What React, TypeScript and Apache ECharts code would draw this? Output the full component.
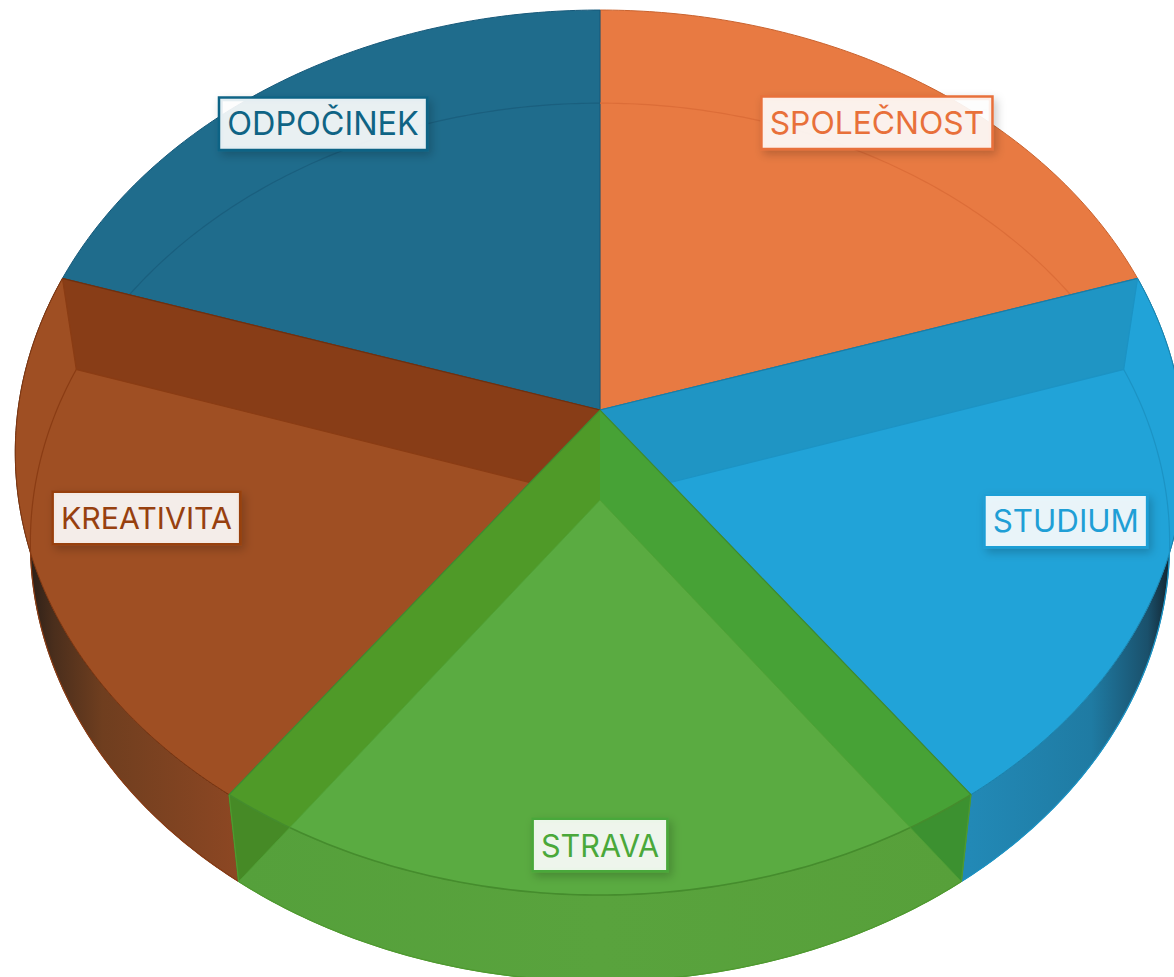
import React, { useEffect, useRef } from "react";
import * as echarts from "echarts";

const categories = ["SPOLEČNOST", "STUDIUM", "STRAVA", "KREATIVITA", "ODPOČINEK"];
const values = [20, 20, 20, 20, 20];
const faceColors = ["#e87a42", "#21a3d8", "#5aab41", "#9f4f23", "#1f6c8c"];
const textColors = ["#e8703a", "#1f9fd6", "#4aa83a", "#97400f", "#0f6485"];
const bandColors = ["#e06f38", "#1f95c4", "#4f9a28", "#883d17", "#1a6282"];
const lineColors = ["#c9632f", "#1a85b0", "#4b9030", "#7f3610", "#17597a"];
const arcColors = ["#dc6d38", "#1c93c4", "#4a9630", "#8a3c14", "#1a5f7e"];
const stack = [1, 3, 5, 3, 1];
const labelRadii = [0.864, 0.821, 0.906, 0.8, 0.864];
const labelLift = [0, 3, 0, 3, -1];
const labelSizes = [31.8, 31.3, 30.6, 30.3, 32.4];

const K = 0.0961;
const topFace = { cx: 600, cy: 410, a: 582, b: 438.4 };
const bottomFace = { cx: 600, cy: 500, a: 567, b: 435 };
const total = values.reduce((s, v) => s + v, 0);

const project = (f: any, deg: number, r = 1) => {
  const t = (deg * Math.PI) / 180;
  const d = 1 + K * r * Math.cos(t);
  return [f.cx + (f.a * r * Math.sin(t)) / d, f.cy - (f.b * r * Math.cos(t)) / d];
};
const rim = (f: any, from: number, to: number) => {
  const n = Math.max(2, Math.ceil(Math.abs(to - from) * 1.5));
  const pts: number[][] = [];
  for (let i = 0; i <= n; i++) pts.push(project(f, from + ((to - from) * i) / n));
  return pts;
};
const centerOf = (f: any) => [f.cx, f.cy];

// Part of a radial wall that is seen through the top face
const bandInsideTop = (deg: number, towards: number) => {
  const bc = centerOf(bottomFace);
  const be = project(bottomFace, deg);
  const side = (p: number[]) => (be[0] - bc[0]) * (p[1] - bc[1]) - (be[1] - bc[1]) * (p[0] - bc[0]);
  const s0 = Math.sign(side(project(topFace, deg)));
  const pts: number[][] = [];
  for (let i = 0; i <= 400; i++) {
    const p = project(topFace, deg + ((towards - deg) * i) / 400);
    if (Math.sign(side(p)) !== s0) break;
    pts.push(p);
  }
  return [centerOf(topFace), ...pts, bc];
};

const grad = (x0: number, x1: number, stops: [number, string][]) =>
  new echarts.graphic.LinearGradient(
    x0, 0, x1, 0,
    stops.map(([offset, color]) => ({ offset, color })),
    true
  );

const wallFills: any[] = [
  null,
  grad(970, 1172, [[0, "#2289b6"], [0.6, "#1f7ba3"], [0.88, "#1a506b"], [1, "#12202a"]]),
  grad(238, 962, [[0, "#55a03b"], [0.5, "#59a33d"], [1, "#57a03a"]]),
  grad(28, 240, [[0, "#2a1f18"], [0.12, "#4a2e1c"], [0.35, "#6f3e1f"], [1, "#8d4723"]]),
  null,
];
const wallLines = ["#c9632f", "#1c7ca6", "#4f9a30", "#4f2a14", "#17597a"];

function renderItem(params: any, api: any) {
  const i = params.dataIndex;
  const before = values.slice(0, i).reduce((s, v) => s + v, 0);
  const start = (before / total) * 360;
  const end = start + (api.value(0) / total) * 360;
  const mid = (start + end) / 2;
  const base = stack[i] * 10;
  const tc = centerOf(topFace);
  const bc = centerOf(bottomFace);
  const children: any[] = [];
  const poly = (points: number[][], fill: any, stroke: string | null, z: number, lineWidth = 1) =>
    children.push({
      type: "polygon",
      z2: base + z,
      silent: true,
      shape: { points },
      style: { fill, stroke: stroke || "none", lineWidth: stroke ? lineWidth : 0 },
    });
  const line = (points: number[][], stroke: string, z: number, lineWidth = 1.2) =>
    children.push({
      type: "polyline",
      z2: base + z,
      silent: true,
      shape: { points },
      style: { fill: "none", stroke, lineWidth },
    });

  const topArc = rim(topFace, start, end);
  const bottomArc = rim(bottomFace, start, end);
  const facePts = [tc, ...topArc];

  if (wallFills[i]) {
    poly([...topArc, ...bottomArc.slice().reverse()], wallFills[i], wallLines[i], 0);
  }

  if (categories[i] === "STRAVA") {
    const tri = (deg: number, c: string) =>
      poly([tc, project(topFace, deg), project(bottomFace, deg), bc], c, null, 1);
    tri(start, "#3c9130");
    tri(end, "#468a26");
    poly(facePts, faceColors[i], null, 2);
    poly(bandInsideTop(start, mid), "#47a236", null, 3);
    poly(bandInsideTop(end, mid), "#4f9a28", null, 3);
    line(topArc, "#458c2d", 4, 1.6);
    line([project(topFace, start), project(bottomFace, start)], "#4f9a30", 4);
    line([project(topFace, end), project(bottomFace, end)], "#4f9a30", 4);
    line([project(bottomFace, start), bc, project(bottomFace, end)], "#4fa035", 4, 0.8);
    line([project(topFace, start), tc, project(topFace, end)], "#3f8a30", 4);
    line(bottomArc, "#4f9a30", 4);
  } else {
    poly(facePts, faceColors[i], lineColors[i], 2);
    line(bottomArc, arcColors[i], 3);
    // radial wall seen through the face, on the edge that the green slice does not cover
    if (categories[i] === "STUDIUM") {
      poly([tc, project(topFace, start), project(bottomFace, start), bc], bandColors[i], null, 4);
      line([project(topFace, start), project(bottomFace, start), bc], arcColors[i], 5);
      line([tc, project(topFace, start)], "#1a7ca6", 6);
    }
    if (categories[i] === "KREATIVITA") {
      poly([tc, project(topFace, end), project(bottomFace, end), bc], bandColors[i], null, 4);
      line([project(topFace, end), project(bottomFace, end), bc], arcColors[i], 5);
      line([tc, project(topFace, end)], "#6e3010", 6);
    }
  }

  const at = project(topFace, mid, labelRadii[i]);
  children.push({
    type: "text",
    z2: 100 + i,
    silent: true,
    x: at[0],
    y: at[1] - labelLift[i],
    style: {
      text: categories[i],
      fill: textColors[i],
      font: `400 ${labelSizes[i]}px Inter, "Noto Sans", sans-serif`,
      lineHeight: 31,
      align: "center",
      verticalAlign: "middle",
      backgroundColor: "rgba(255,255,255,0.89)",
      borderColor: textColors[i],
      borderWidth: 2.5,
      padding: [9.5, 7, 9.5, 7],
      shadowColor: "rgba(0,0,0,0.22)",
      shadowBlur: 10,
      shadowOffsetX: 3,
      shadowOffsetY: 4,
    },
  });
  return { type: "group", children };
}

export default function App() {
  const ref = useRef<HTMLDivElement>(null);
  useEffect(() => {
    const chart = echarts.init(ref.current!, undefined, { renderer: "svg" });
    chart.setOption({
      animation: false,
      backgroundColor: "#ffffff",
      series: [
        {
          type: "custom",
          coordinateSystem: "none",
          clip: false,
          renderItem,
          data: values.map((v, i) => ({ name: categories[i], value: [v, i] })),
        },
      ],
    });
    return () => chart.dispose();
  }, []);
  return (
    <div
      ref={ref}
      style={{ position: "fixed", left: 0, top: 0, width: 1174, height: 977, background: "#fff" }}
    />
  );
}
